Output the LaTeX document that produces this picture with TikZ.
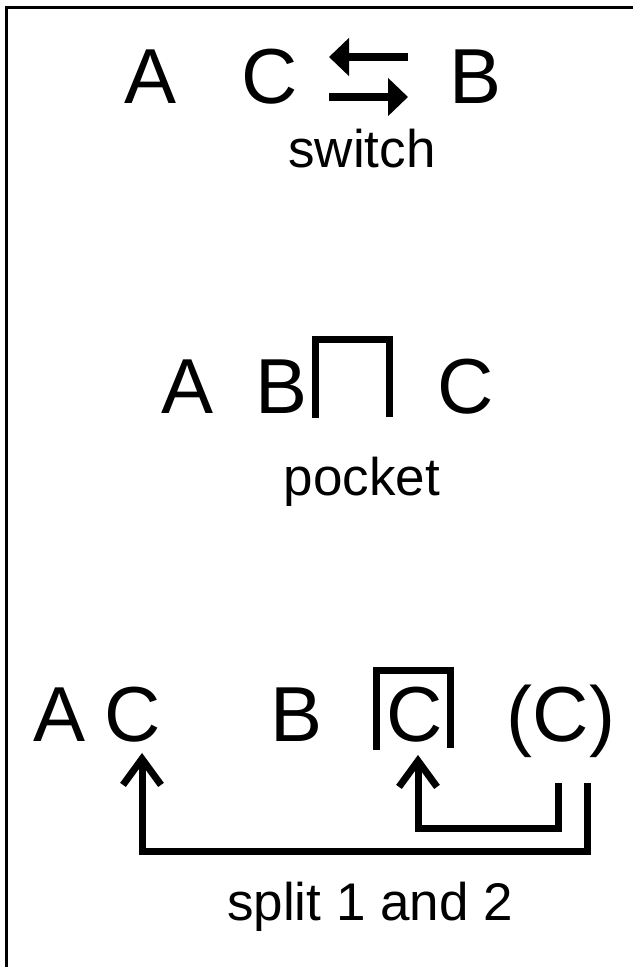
\documentclass[tikz,border=0pt]{standalone}
\usepackage{fontspec}
\setmainfont{Liberation Sans}
\usetikzlibrary{arrows.meta,calc}

\begin{document}
\begin{tikzpicture}[x=1pt, y=-1pt,
    big/.style={inner sep=0pt, anchor=base, font=\fontsize{78}{80}\selectfont},
    small/.style={inner sep=0pt, anchor=base, font=\fontsize{53}{56}\selectfont},
    swaparrow/.style={line width=8pt, -{Triangle[length=20pt,width=37pt]}},
    splitarrow/.style={line width=7pt, line join=miter, -{Straight Barb[length=26pt,width=38pt]}},
    bracket/.style={line width=7pt, line join=miter}]
    \useasboundingbox (0,0) rectangle (633,967);
    % Frame
    \draw[line width=3pt] (6,967) -- (6,7.5) -- (633,7.5);

    % Switch
    \node[big] (a1) at (151,103) {A};
    \node[big] (c1) at (270,103) {C};
    \node[big] (b1) at (476,103) {B};
    \coordinate (swR1) at (408,57);
    \coordinate (swL1) at (329,57);
    \coordinate (swL2) at (329,97);
    \coordinate (swR2) at (408,97);
    \draw[swaparrow] (swR1) -- (swL1);
    \draw[swaparrow] (swL2) -- (swR2);
    \node[small] (switch) at (362,167) {switch};

    % Pocket
    \node[big] (a2) at (188,413) {A};
    \node[big] (b2) at (282,413) {B};
    \node[big] (c2) at (466,413) {C};
    \draw[bracket] (315.5,418) -- (315.5,339) -- (389,339) -- (389,417);
    \node[small] (pocket) at (362,495) {pocket};

    % Split 1 and 2
    \node[big] (a3) at (60,741) {A};
    \node[big] (c3) at (133,741) {C};
    \node[big] (b3) at (297,741) {B};
    \node[big] (cbox) at (415,741) {C};
    \node[big] (cpar) at (561,741) {(C)};
    \draw[bracket] (376,750) -- (376,670) -- (450,670) -- (450,748);
    \coordinate (out1) at (587,783);
    \coordinate (out2) at (558,783);
    \draw[splitarrow] (out1) -- ++(0,68) -| ($(c3.south)+(9,11)$);
    \draw[splitarrow] (out2) -- ++(0,45) -| ($(cbox.south)+(3,13)$);
    \node[small] (split) at (370,920) {split 1 and 2};
\end{tikzpicture}
\end{document}
